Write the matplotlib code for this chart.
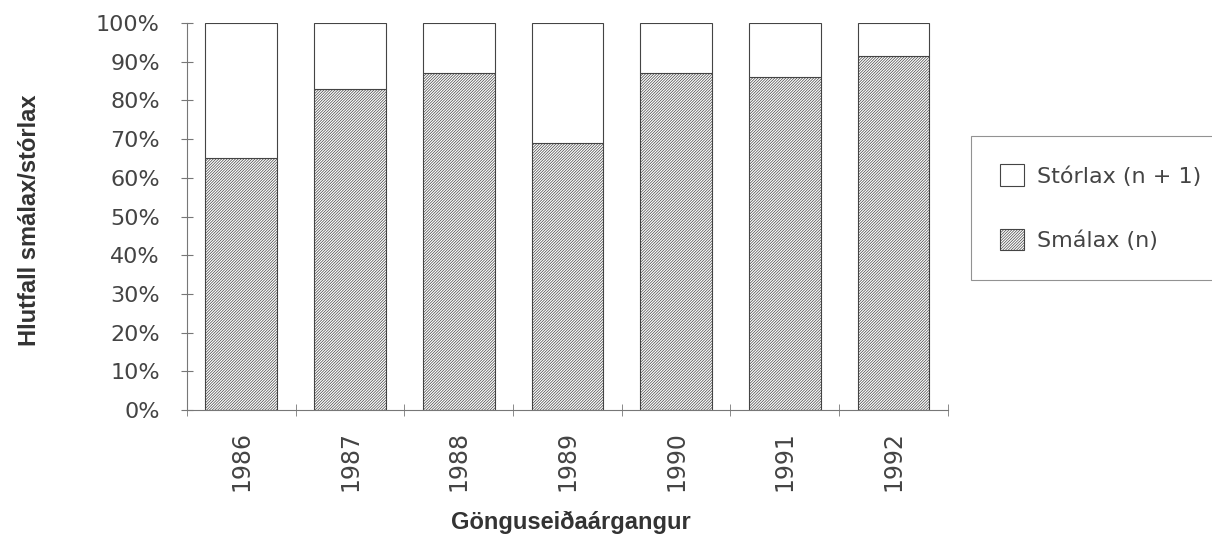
import numpy as np
import matplotlib
matplotlib.use("Agg")
import matplotlib.pyplot as plt

years = ["1986", "1987", "1988", "1989", "1990", "1991", "1992"]
smalax = [65, 83, 87, 69, 87, 86, 91.5]          # Smálax (n), %
storlax = [100 - v for v in smalax]               # Stórlax (n+1), %

plt.rcParams['hatch.color'] = '#555555'
plt.rcParams['hatch.linewidth'] = 0.5
plt.rcParams['font.family'] = ['DejaVu Sans']

fig = plt.figure(figsize=(12.12, 5.36), dpi=100)
ax = fig.add_axes([0.1543, 0.235, 0.6277, 0.722])

x = np.arange(len(years))
ax.bar(x, smalax, width=0.66, color='white', edgecolor='#444444', linewidth=0.8,
       hatch='/' * 12, label='Smálax (n)')
ax.bar(x, storlax, width=0.66, bottom=smalax, color='white', edgecolor='#444444',
       linewidth=0.8, label='Stórlax (n + 1)')

ax.set_xlim(-0.5, len(years) - 0.5)
ax.set_ylim(0, 100)
ax.set_yticks(np.arange(0, 101, 10))
ax.set_yticklabels([f"{v}%" for v in range(0, 101, 10)], fontsize=16, color='#444444')
ax.set_xticks(x)
ax.set_xticklabels(years, rotation=90, fontsize=17, color='#444444')
ax.set_xticks(np.arange(-0.5, len(years)), minor=True)
ax.tick_params(axis='x', which='major', length=0, pad=15)
ax.tick_params(axis='x', which='minor', length=9, direction='inout', color='#777777')
ax.tick_params(axis='y', length=9, direction='inout', color='#777777', pad=15)

for s in ['top', 'right']:
    ax.spines[s].set_visible(False)
for s in ['left', 'bottom']:
    ax.spines[s].set_color('#777777')
    ax.spines[s].set_linewidth(0.8)

ax.set_ylabel('Hlutfall smálax/stórlax', fontsize=17, fontweight='bold',
              color='#333333', family='Liberation Sans')
ax.yaxis.set_label_coords(-0.192, 0.49)
ax.set_xlabel('Gönguseiðaárgangur', fontsize=17, fontweight='bold',
              color='#333333', family='Liberation Sans')
ax.xaxis.set_label_coords(0.505, -0.26)

handles, labels = ax.get_legend_handles_labels()
leg = fig.legend(handles[::-1], labels[::-1], loc='upper left',
                 bbox_to_anchor=(0.801, 0.747), fontsize=16, frameon=True,
                 fancybox=False, edgecolor='#777777', borderpad=1.3,
                 labelspacing=1.9, handlelength=1.1, handleheight=1.1,
                 handletextpad=0.6, borderaxespad=0)
leg.get_frame().set_linewidth(0.8)
for t in leg.get_texts():
    t.set_color('#444444')

fig.savefig("out.png", dpi=100)
